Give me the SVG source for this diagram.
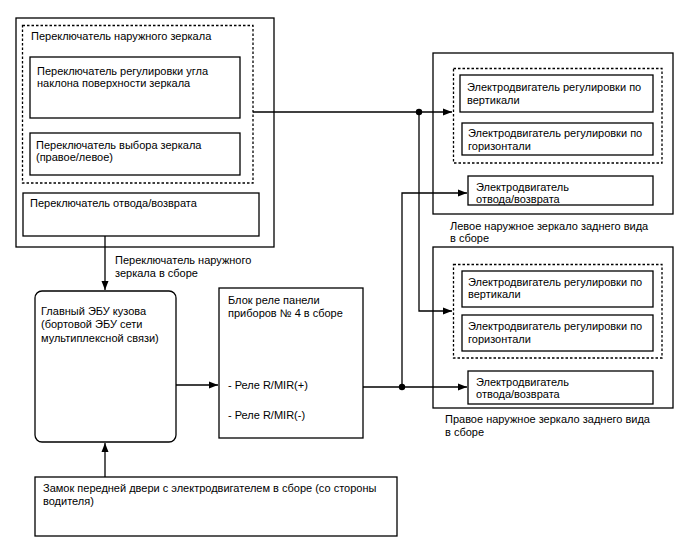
<svg xmlns="http://www.w3.org/2000/svg" width="688" height="560" viewBox="0 0 688 560">
<defs>
<marker id="ah" markerWidth="10" markerHeight="8" refX="9" refY="4" orient="auto" markerUnits="userSpaceOnUse">
<path d="M0,0.5 L9,4 L0,7.5 Z" fill="#000"/>
</marker>
</defs>
<style>
text{font-family:"Liberation Sans",Arial,sans-serif;font-size:11px;fill:#000}
.b{fill:#fff;stroke:#000;stroke-width:1.3}
.o{fill:none;stroke:#000;stroke-width:1.3}
.d{fill:none;stroke:#000;stroke-width:1.3;stroke-dasharray:2.5,2}
.c{fill:none;stroke:#000;stroke-width:1.3}
</style>
<rect width="688" height="560" fill="#fff"/>
<g id="switch-assembly">
<rect class="o" x="16" y="18" width="258" height="229"/>
<rect class="d" x="22.5" y="25.5" width="230.5" height="157.5"/>
<text x="31" y="40">Переключатель наружного зеркала</text>
</g>
<g id="tilt-switch">
<rect class="b" x="30" y="57" width="210" height="61"/>
<text x="37" y="75">Переключатель регулировки угла</text>
<text x="37" y="87">наклона поверхности зеркала</text>
</g>
<g id="select-switch">
<rect class="b" x="30" y="133" width="210" height="42"/>
<text x="36" y="149">Переключатель выбора зеркала</text>
<text x="36" y="161">(правое/левое)</text>
</g>
<g id="retract-switch">
<rect class="b" x="23" y="193" width="236" height="43"/>
<text x="30" y="207">Переключатель отвода/возврата</text>
</g>
<g id="main-ecu">
<rect class="b" x="35" y="291" width="141" height="151" rx="7"/>
<text x="41" y="315">Главный ЭБУ кузова</text>
<text x="41" y="328">(бортовой ЭБУ сети</text>
<text x="41" y="342">мультиплексной связи)</text>
</g>
<g id="relay-block">
<rect class="b" x="219" y="288" width="144" height="150"/>
<text x="228" y="304">Блок реле панели</text>
<text x="228" y="317">приборов № 4 в сборе</text>
<text x="228" y="389">- Реле R/MIR(+)</text>
<text x="228" y="419">- Реле R/MIR(-)</text>
</g>
<g id="door-lock">
<rect class="b" x="35" y="477" width="362" height="59"/>
<text x="43" y="492">Замок передней двери с электродвигателем в сборе (со стороны</text>
<text x="43" y="505">водителя)</text>
</g>
<g id="left-mirror">
<rect class="o" x="433" y="53" width="240" height="161"/>
<rect class="d" x="453.5" y="68.5" width="208.5" height="94.5"/>
<text x="450" y="230">Левое наружное зеркало заднего вида</text>
<text x="450" y="242">в сборе</text>
</g>
<g id="left-vertical-motor">
<rect class="b" x="460" y="75" width="193" height="37"/>
<text x="467" y="91">Электродвигатель регулировки по</text>
<text x="467" y="104">вертикали</text>
</g>
<g id="left-horizontal-motor">
<rect class="b" x="462" y="123" width="191" height="32"/>
<text x="468" y="137">Электродвигатель регулировки по</text>
<text x="468" y="150">горизонтали</text>
</g>
<g id="left-retract-motor">
<rect class="b" x="468" y="176" width="185" height="29"/>
<text x="476" y="191">Электродвигатель</text>
<text x="476" y="203">отвода/возврата</text>
</g>
<g id="right-mirror">
<rect class="o" x="433" y="247" width="240" height="161"/>
<rect class="d" x="453.5" y="264.5" width="208.5" height="93.5"/>
<text x="445" y="423">Правое наружное зеркало заднего вида</text>
<text x="445" y="436">в сборе</text>
</g>
<g id="right-vertical-motor">
<rect class="b" x="462" y="271" width="191" height="36"/>
<text x="468" y="286">Электродвигатель регулировки по</text>
<text x="468" y="298">вертикали</text>
</g>
<g id="right-horizontal-motor">
<rect class="b" x="462" y="315" width="191" height="36"/>
<text x="468" y="330">Электродвигатель регулировки по</text>
<text x="468" y="343">горизонтали</text>
</g>
<g id="right-retract-motor">
<rect class="b" x="468" y="371" width="185" height="33"/>
<text x="476" y="386">Электродвигатель</text>
<text x="476" y="398">отвода/возврата</text>
</g>
<g id="connectors">
<line class="c" x1="105" y1="236" x2="105" y2="290" marker-end="url(#ah)"/>
<text x="115" y="264">Переключатель наружного</text>
<text x="115" y="277">зеркала в сборе</text>
<line class="c" x1="105" y1="477" x2="105" y2="443" marker-end="url(#ah)"/>
<line class="c" x1="176" y1="385" x2="218" y2="385" marker-end="url(#ah)"/>
<line class="c" x1="253" y1="112" x2="452" y2="112" marker-end="url(#ah)"/>
<polyline class="c" points="419,112 419,311 452,311" marker-end="url(#ah)"/>
<line class="c" x1="363" y1="387" x2="467" y2="387" marker-end="url(#ah)"/>
<polyline class="c" points="402,387 402,193 467,193" marker-end="url(#ah)"/>
<circle cx="419" cy="112" r="3.2" fill="#000"/>
<circle cx="402" cy="387" r="3.2" fill="#000"/>
</g>
</svg>
